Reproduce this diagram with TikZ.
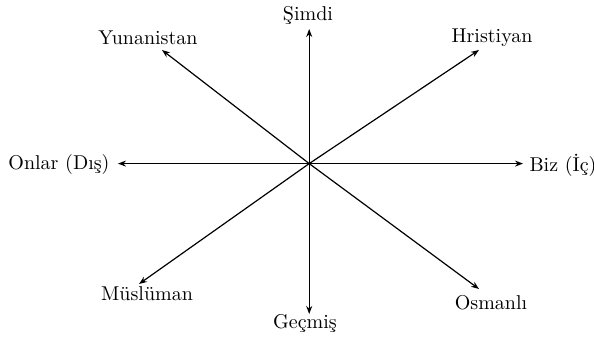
\documentclass[tikz,border=0pt]{standalone}
\usetikzlibrary{arrows.meta}
\tikzset{
  ray/.style={semithick,-{Stealth[length=4pt,width=3pt]}},
  lbl/.style={inner sep=0pt}
}
\begin{document}
\begin{tikzpicture}[x=1pt,y=1pt]
  \useasboundingbox (0,0) rectangle (297,168.5);
  \coordinate (O) at (154.6,86.7);
  % ends of the rays
  \coordinate (tN) at (154.6,154);
  \coordinate (tS) at (154.6,11.5);
  \coordinate (tW) at (59,86.7);
  \coordinate (tE) at (261.5,86.7);
  \coordinate (tNW) at (81,143.5);
  \coordinate (tNE) at (239.5,143.5);
  \coordinate (tSW) at (69.5,26.5);
  \coordinate (tSE) at (239.5,24);
  % labels
  \node[lbl] (simdi) at (154,161) {Şimdi};
  \node[lbl] (gecmis) at (152.5,7) {Geçmiş};
  \node[lbl] (onlar) at (29.5,86) {Onlar (Dış)};
  \node[lbl] (biz) at (281.5,86) {Biz (İç)};
  \node[lbl] (yunan) at (74,149.5) {Yunanistan};
  \node[lbl] (hristiyan) at (246,149.5) {Hristiyan};
  \node[lbl] (musluman) at (73.5,21.5) {Müslüman};
  \node[lbl] (osmanli) at (245.5,17) {Osmanlı};
  % rays
  \foreach \t in {tN,tS,tW,tE,tNW,tNE,tSW,tSE}
    \draw[ray] (O) -- (\t);
\end{tikzpicture}
\end{document}
